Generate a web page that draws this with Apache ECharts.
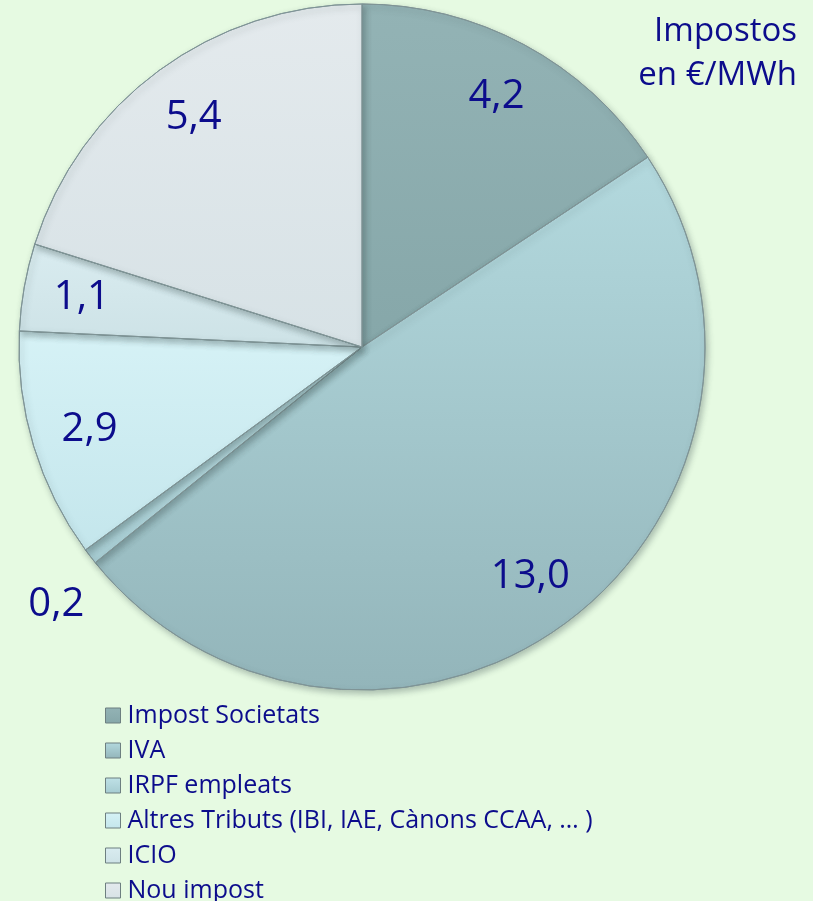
<!DOCTYPE html>
<html>
<head>
<meta charset="utf-8">
<script src="https://cdn.jsdelivr.net/npm/echarts@6/dist/echarts.min.js"></script>
<style>
  html, body { margin: 0; padding: 0; background: #e6fae2; }
  #chart { width: 813px; height: 901px; }
</style>
</head>
<body>
<div id="chart"></div>
<script>
// categories and values (€/MWh)
const categories = ['Impost Societats', 'IVA', 'IRPF empleats', 'Altres Tributs (IBI, IAE, Cànons CCAA, … )', 'ICIO', 'Nou impost']
const values = [4.2, 13.0, 0.2, 2.9, 1.1, 5.4]
// light / dark shade of each slice (top -> bottom)
const colorsTop = ['#93b3b5', '#b3d9de', '#bfe2e7', '#d6f2f6', '#d9ecf0', '#e4eaed']
const colorsBottom = ['#86a7a9', '#93b5ba', '#a6cbd1', '#c4e6ec', '#cde2e6', '#d7e2e6']

const textColor = '#0c0c8c'
const fmt = v => v.toFixed(1).replace('.', ',')

const chart = echarts.init(document.getElementById('chart'))

// pie slices
const pieData = categories.map((name, i) => ({
  name: name,
  value: values[i],
  itemStyle: {
    color: new echarts.graphic.LinearGradient(0, 0, 0, 1, [
      { offset: 0, color: colorsTop[i] },
      { offset: 1, color: colorsBottom[i] }
    ])
  }
}))

// label ring: transparent, only carries the numbers near the outer edge
const labelData = categories.map((name, i) => {
  const item = { name: name, value: values[i] }
  if (values[i] < 0.5) {
    // tiny slice -> label outside, below the edge
    item.label = { position: 'outside', distanceToLabelLine: 0, overflow: 'none', width: 100, offset: [2, 42] }
    item.labelLine = { show: false, length: 10, length2: 0 }
  }
  return item
})

const option = {
  backgroundColor: '#e6fae2',
  color: colorsTop,
  title: {
    text: 'Impostos\nen €/MWh',
    left: 792,
    top: 5,
    textAlign: 'right',
    textStyle: {
      color: textColor,
      fontFamily: 'Open Sans',
      fontWeight: 'normal',
      fontSize: 33,
      lineHeight: 44
    }
  },
  legend: {
    orient: 'vertical',
    left: 105,
    top: 703,
    height: 230,
    padding: 0,
    itemWidth: 15,
    itemHeight: 15,
    itemGap: 10,
    icon: 'rect',
    itemStyle: { borderColor: '#6d7f80', borderWidth: 1 },
    textStyle: {
      color: textColor,
      fontFamily: 'Open Sans',
      fontSize: 25,
      lineHeight: 24,
      padding: [0, 0, 0, 2]
    },
    data: categories
  },
  series: [
    {
      type: 'pie',
      center: [362, 347],
      radius: [0, 343],
      startAngle: 90,
      clockwise: true,
      silent: true,
      label: { show: false },
      labelLine: { show: false },
      itemStyle: {
        borderColor: '#7f9496',
        borderWidth: 1,
        shadowBlur: 6,
        shadowOffsetX: 2,
        shadowOffsetY: 3,
        shadowColor: 'rgba(60, 80, 80, 0.35)'
      },
      data: pieData
    },
    {
      type: 'pie',
      center: [362, 347],
      radius: [220, 343],
      startAngle: 90,
      clockwise: true,
      silent: true,
      legendHoverLink: false,
      itemStyle: { color: 'rgba(0,0,0,0)', borderWidth: 0 },
      label: {
        show: true,
        position: 'inside',
        color: textColor,
        fontFamily: 'Open Sans',
        fontSize: 40,
        formatter: p => fmt(p.value)
      },
      labelLine: { show: false },
      data: labelData
    }
  ]
}

chart.setOption(option)
</script>
</body>
</html>
